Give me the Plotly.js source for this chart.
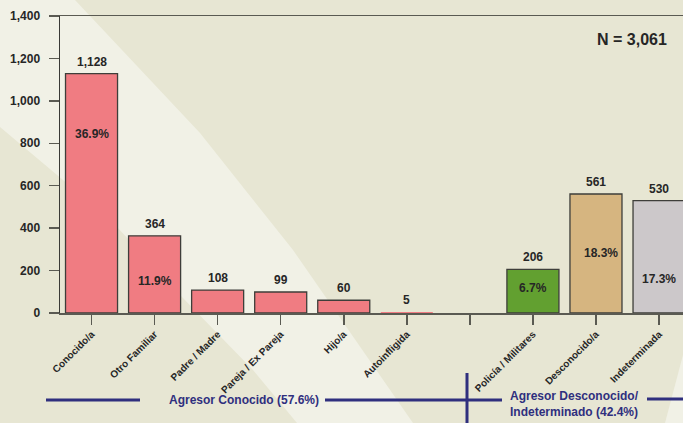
<!DOCTYPE html>
<html>
<head>
<meta charset="utf-8">
<script src="https://cdn.plot.ly/plotly-3.0.1.min.js"></script>
<style>html,body{margin:0;padding:0;background:#e7e6d3;}#chart{width:683px;height:423px;}</style>
</head>
<body>
<div id="chart"></div>
<script>
// ---- data ----
const categories = ['Conocido/a','Otro Familiar','Padre / Madre','Pareja / Ex Pareja','Hijo/a','Autoinfligida',' ','Policía / Militares','Desconocido/a','Indeterminada'];
const counts = [1128, 364, 108, 99, 60, 5, null, 206, 561, 530];
const percents = ['36.9%', '11.9%', null, null, null, null, null, '6.7%', '18.3%', '17.3%'];
const totalN = 3061;
const yTicks = [0, 200, 400, 600, 800, 1000, 1200, 1400];
const groupKnown = 'Agresor Conocido (57.6%)';
const groupUnknown = 'Agresor Desconocido/<br>Indeterminado (42.4%)';

// ---- style ----
const W = 683, H = 423;
const L = 60, R = 0, T = 16, B = 110;
const pw = W - L - R, ph = H - T - B;
const px = x => (x - L) / pw;
const py = y => (H - B - y) / ph;
const pink = 'rgb(240,124,130)', green = 'rgb(98,160,48)', tan = 'rgb(214,181,128)', grey = 'rgb(204,200,202)';
const barColors = [pink, pink, pink, pink, pink, pink, pink, green, tan, grey];
const barLineW = [1.3, 1.3, 1.3, 1.3, 1.3, 0, 0, 1.3, 1.3, 1.3];
const pctFrac = [0.75, 0.41, 0, 0, 0, 0, 0, 0.58, 0.5, 0.3];
const pctShift = [0, 0, 0, 0, 0, 0, 0, 0, 5, 0];
const navy = '#2f2f7e';
const txt = '#262626';
const fam = 'Liberation Sans, Arial, sans-serif';

const annotations = [];
categories.forEach((c, i) => {
  if (counts[i] == null) return;
  annotations.push({x: c, y: counts[i], xref: 'x', yref: 'y', text: counts[i].toLocaleString('en-US'),
    showarrow: false, yanchor: 'bottom', yshift: 3, font: {family: fam, size: 12, color: txt, weight: 'bold'}});
  if (percents[i]) {
    annotations.push({x: c, y: counts[i] * pctFrac[i], xref: 'x', yref: 'y', text: percents[i], xshift: pctShift[i],
      showarrow: false, yanchor: 'middle', font: {family: fam, size: 12, color: txt, weight: 'bold'}});
  }
});
annotations.push({x: px(669), y: py(40), xref: 'paper', yref: 'paper', xanchor: 'right', yanchor: 'middle',
  text: 'N = ' + totalN.toLocaleString('en-US'), showarrow: false, font: {family: fam, size: 16, color: txt, weight: 'bold'}});
annotations.push({x: px(244), y: py(400), xref: 'paper', yref: 'paper', xanchor: 'center', yanchor: 'middle',
  text: groupKnown, showarrow: false, font: {family: fam, size: 12, color: navy, weight: 'bold'}});
annotations.push({x: px(508), y: py(404), xref: 'paper', yref: 'paper', xanchor: 'left', yanchor: 'middle', align: 'left',
  text: groupUnknown, showarrow: false, font: {family: fam, size: 12, color: navy, weight: 'bold'}});

const lineSeg = (x0, y0, x1, y1) => ({type: 'line', xref: 'paper', yref: 'paper', x0: px(x0), y0: py(y0), x1: px(x1), y1: py(y1),
  line: {color: navy, width: 3}, layer: 'above'});

const lightPts = [[0,0],[75,0],[200,133],[293,250],[413,423],[297,423],[253,370],[182,297],[117,227],[63,180],[0,127]];
const cornerPts = [[683,355],[683,423],[665,423]];
const toPath = pts => 'M' + pts.map(p => px(p[0]) + ',' + py(p[1])).join(' L') + ' Z';

const shapes = [
  {type: 'path', xref: 'paper', yref: 'paper', path: toPath(lightPts), fillcolor: 'rgb(241,241,230)', line: {width: 0}, layer: 'below'},
  {type: 'path', xref: 'paper', yref: 'paper', path: toPath(cornerPts), fillcolor: 'rgb(241,241,230)', line: {width: 0}, layer: 'below'},
  lineSeg(46, 400, 140, 400),
  lineSeg(325, 400, 502, 400),
  lineSeg(467, 373, 467, 430),
  lineSeg(647, 399, 690, 399)
];

const trace = {
  type: 'bar', x: categories, y: counts, width: 0.825,
  marker: {color: barColors, line: {color: '#3e3e3a', width: barLineW}},
  hoverinfo: 'none'
};

const layout = {
  width: W, height: H,
  margin: {l: L, r: R, t: T, b: B, pad: 0},
  paper_bgcolor: 'rgb(231,230,211)', plot_bgcolor: 'rgba(0,0,0,0)',
  showlegend: false,
  xaxis: {type: 'category', range: [-0.5, 9.38], showline: true, mirror: true, linecolor: '#5a5a52', linewidth: 1.5,
    ticks: 'outside', ticklen: 10, tickwidth: 1.5, tickcolor: '#5a5a52', tickangle: -45,
    tickfont: {family: fam, size: 10, color: txt, weight: 'bold'}, showgrid: false, zeroline: false, fixedrange: true},
  yaxis: {range: [0, 1400], tickvals: yTicks, ticktext: yTicks.map(v => v.toLocaleString('en-US')),
    showline: true, linecolor: '#3a3a36', linewidth: 1.5, ticks: 'outside', ticklen: 10, tickwidth: 1.5, tickcolor: '#5a5a52',
    tickfont: {family: fam, size: 12, color: txt, weight: 'bold'}, showgrid: false, zeroline: false, ticklabelstandoff: 6},
  annotations: annotations,
  shapes: shapes
};

Plotly.newPlot('chart', [trace], layout, {displayModeBar: false, staticPlot: true});
</script>
</body>
</html>
